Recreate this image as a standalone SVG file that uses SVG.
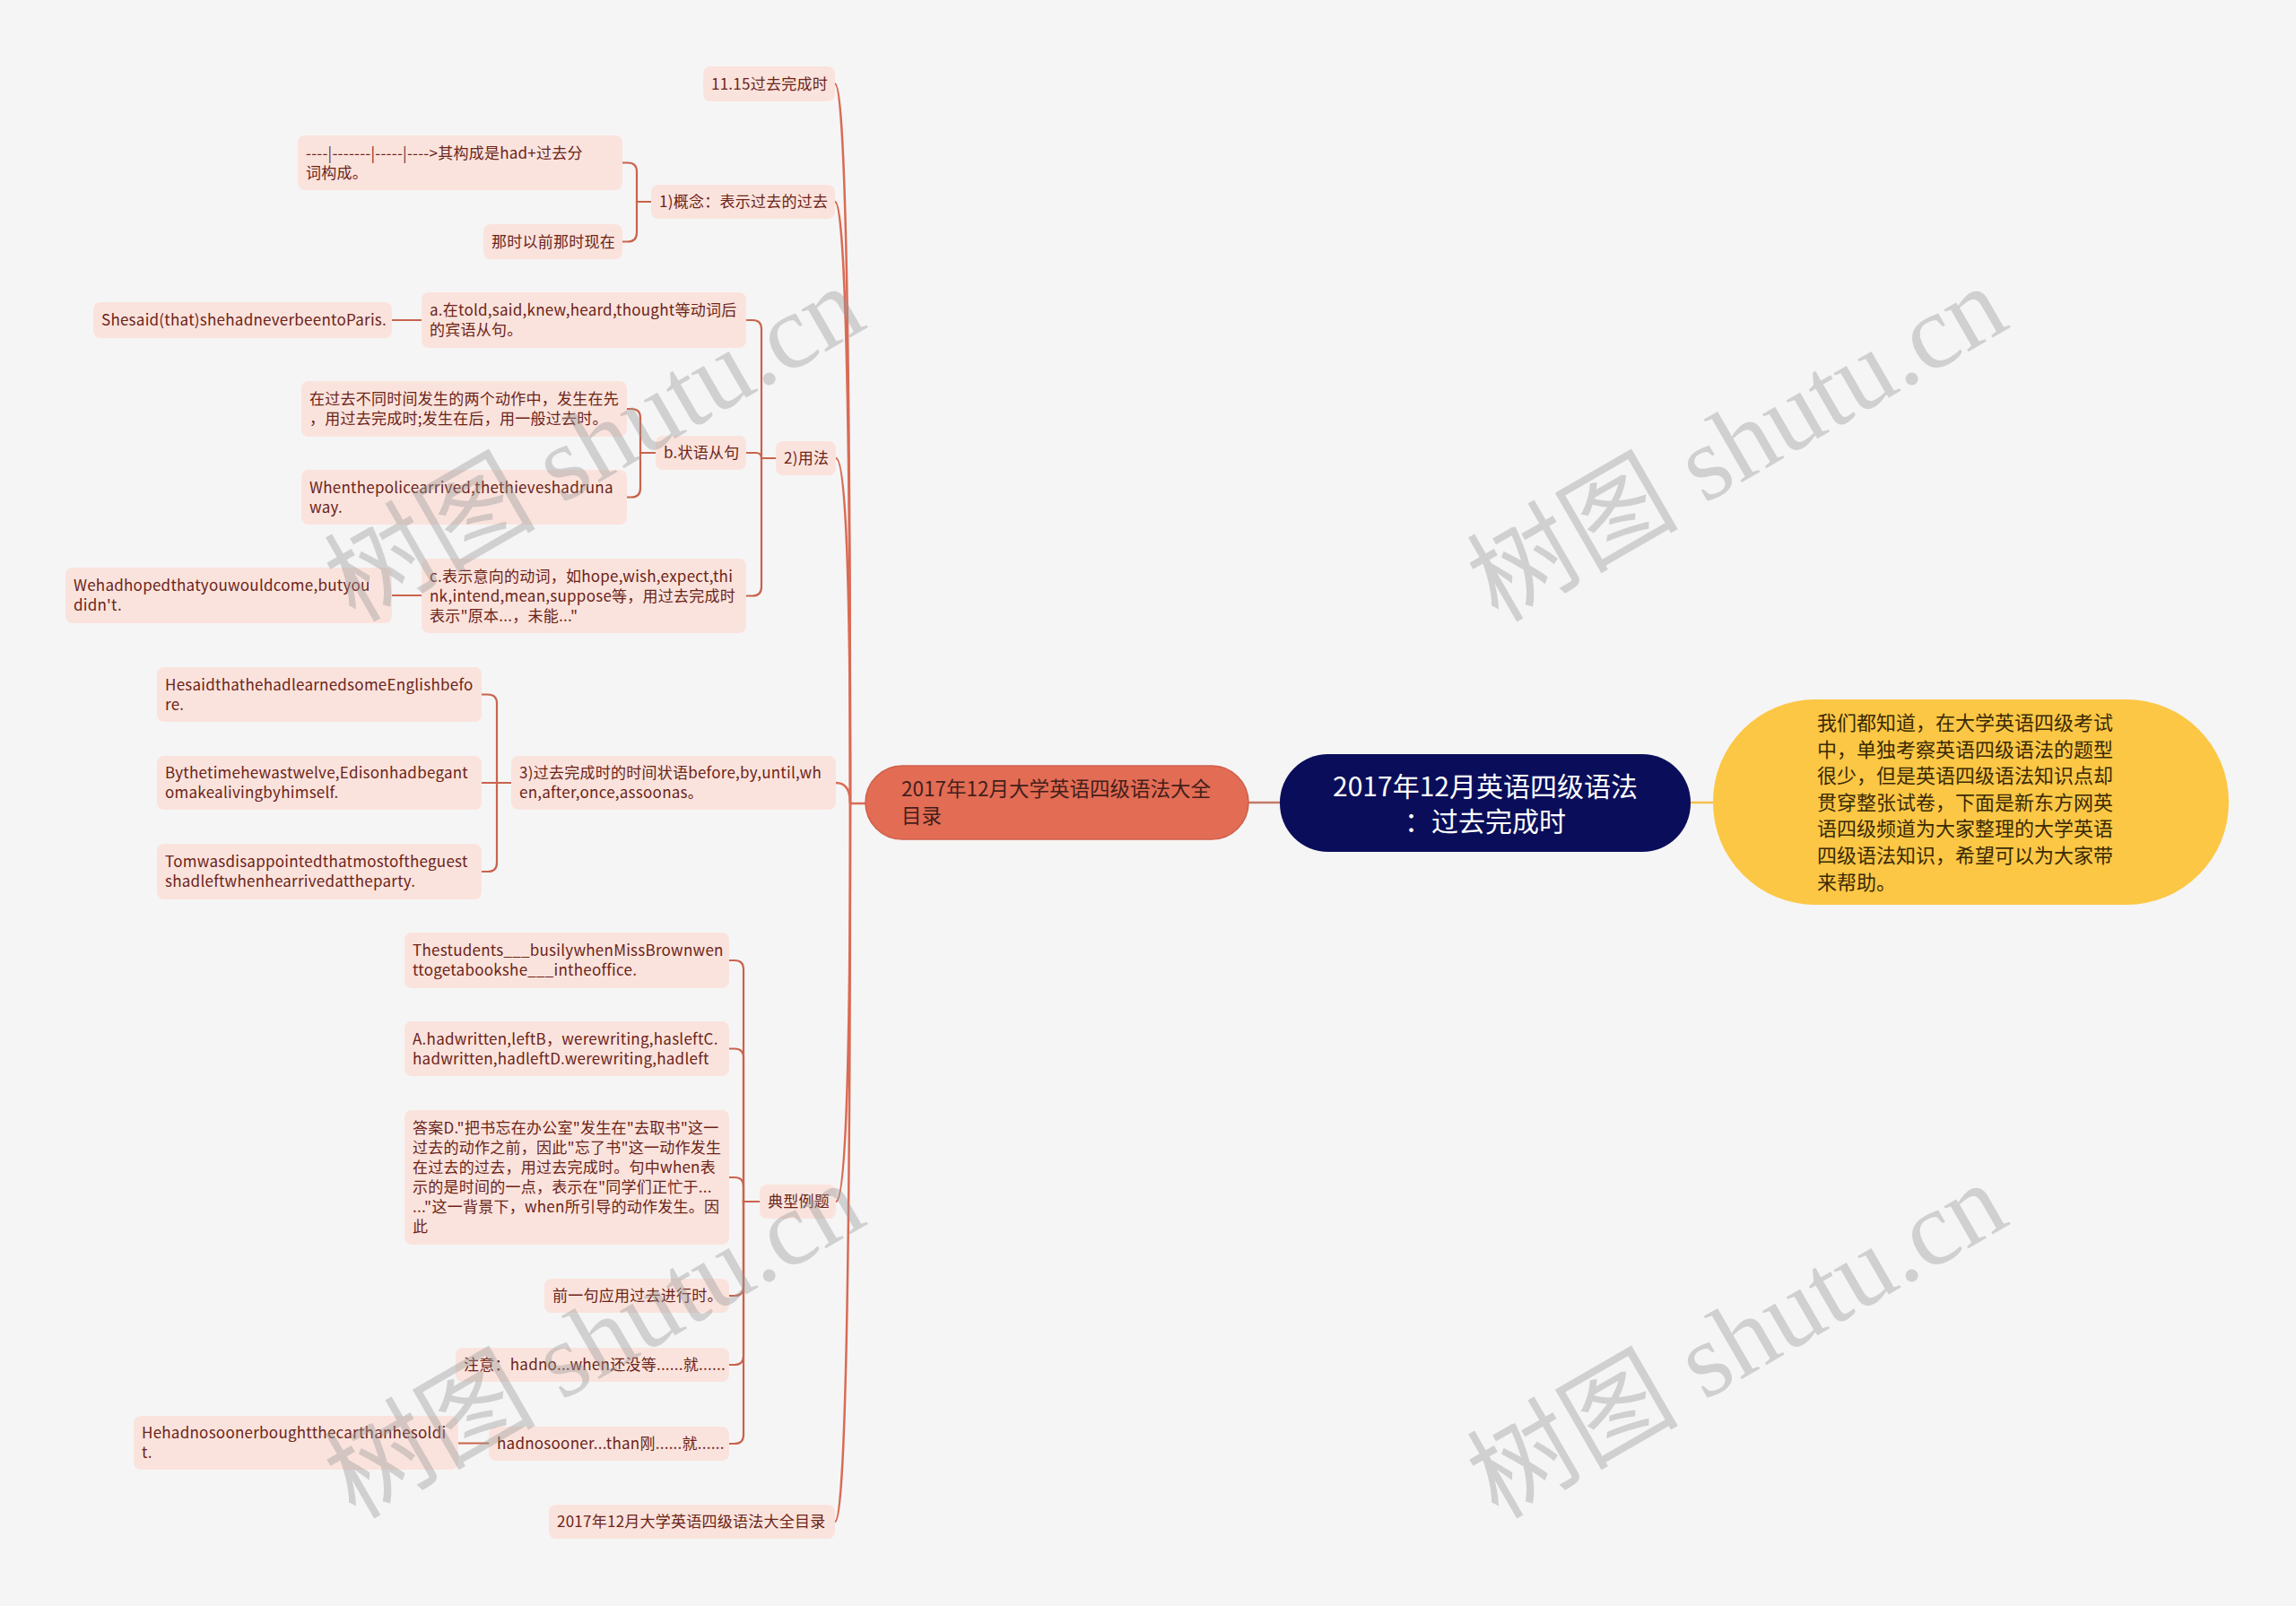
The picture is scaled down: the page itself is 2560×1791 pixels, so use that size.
<svg xmlns="http://www.w3.org/2000/svg" width="2560" height="1791" viewBox="0 0 2560 1791">
<style>
.bg{fill:#f5f5f5}
.leaf rect{fill:#fbe3dd}
.leaf text{font-family:"Noto Sans CJK SC","Noto Sans",sans-serif;font-size:17px;letter-spacing:0.25px;fill:#6b2418}
.spine path{fill:none;stroke:#d96b55;stroke-width:2.5}
.br path{fill:none;stroke:#c9634d;stroke-width:2.2}
.wm text{font-family:"Liberation Serif","Noto Sans CJK SC",serif;font-size:118px;fill:#999;fill-opacity:0.4}
</style>
<rect class="bg" x="0" y="0" width="2560" height="1791"/>
<g id="connectors">
 <g class="spine">
  <path d="M931 93.5Q948 93.5 948 896"/>
  <path d="M931 225Q948 225 948 896"/>
  <path d="M932 511Q948 511 948 896"/>
  <path d="M932 873Q948 873 948 896"/>
  <path d="M932 1340Q948 1340 948 896"/>
  <path d="M931 1697Q948 1697 948 896"/>
  <path d="M948 896H965"/>
 </g>
 <g class="br">
  <path d="M726 225H710V191.5Q710 181.5 700 181.5H694"/>
  <path d="M726 225H710V259.5Q710 269.5 700 269.5H694"/>
  <path d="M865 511H849V367Q849 357 839 357H832"/>
  <path d="M865 511H849V511Q849 505 843 505H832"/>
  <path d="M865 511H849V654.5Q849 664.5 839 664.5H832"/>
  <path d="M470 357H437"/>
  <path d="M731 505H714V466Q714 456 704 456H699"/>
  <path d="M731 505H714V544.5Q714 554.5 704 554.5H699"/>
  <path d="M470 664H437"/>
  <path d="M570 873H554V784.5Q554 774.5 544 774.5H537"/>
  <path d="M570 873H537"/>
  <path d="M570 873H554V962Q554 972 544 972H537"/>
  <path d="M847 1340H829V1081Q829 1071 819 1071H813"/>
  <path d="M847 1340H829V1179.5Q829 1169.5 819 1169.5H813"/>
  <path d="M847 1340H829V1323Q829 1313 819 1313H813"/>
  <path d="M847 1340H829V1435Q829 1445 819 1445H813"/>
  <path d="M847 1340H829V1512Q829 1522 819 1522H813"/>
  <path d="M847 1340H829V1600Q829 1610 819 1610H813"/>
  <path d="M545 1609.5H511"/>
 </g>
 <path d="M1392 895H1427" fill="none" stroke="#c47a68" stroke-width="2.5"/>
 <path d="M1885 895H1910" fill="none" stroke="#f4c04c" stroke-width="2.5"/>
</g>

<g id="center">
 <rect x="1427" y="841" width="458" height="109" rx="54" fill="#0a0e5a"/>
 <text font-family="'Noto Sans CJK SC','Noto Sans',sans-serif" font-size="30" fill="#ffffff" text-anchor="middle"><tspan x="1656" y="888">2017年12月英语四级语法</tspan><tspan x="1656" y="927">：过去完成时</tspan></text>
</g>

<g id="summary">
 <rect x="1910" y="780" width="575" height="229" rx="114" fill="#fcc745"/>
 <text font-family="'Noto Sans CJK SC','Noto Sans',sans-serif" font-size="22" fill="#3a2a05"><tspan x="2026" y="814">我们都知道，在大学英语四级考试</tspan><tspan x="2026" y="843.6">中，单独考察英语四级语法的题型</tspan><tspan x="2026" y="873.2">很少，但是英语四级语法知识点却</tspan><tspan x="2026" y="902.8">贯穿整张试卷，下面是新东方网英</tspan><tspan x="2026" y="932.4">语四级频道为大家整理的大学英语</tspan><tspan x="2026" y="962">四级语法知识，希望可以为大家带</tspan><tspan x="2026" y="991.6">来帮助。</tspan></text>
</g>

<g id="root">
 <rect x="965" y="854" width="427" height="82" rx="41" fill="#e36c55" stroke="#cf5f49" stroke-width="1.5"/>
 <text font-family="'Noto Sans CJK SC','Noto Sans',sans-serif" font-size="22.5" fill="#43201a"><tspan x="1005" y="888">2017年12月大学英语四级语法大全</tspan><tspan x="1005" y="918">目录</tspan></text>
</g>

<g id="n-1115" class="leaf"><rect x="784" y="74" width="147" height="39" rx="8"/><text x="793" y="99.5">11.15过去完成时</text></g>
<g id="n-concept" class="leaf"><rect x="726" y="206" width="205" height="38" rx="8"/><text x="735" y="231">1)概念：表示过去的过去</text></g>
<g id="n-structure" class="leaf"><rect x="332" y="151" width="362" height="61" rx="8"/><text><tspan x="341" y="176.5">----|-------|-----|----&gt;其构成是had+过去分</tspan><tspan x="341" y="198.5">词构成。</tspan></text></g>
<g id="n-thattime" class="leaf"><rect x="539" y="250" width="155" height="39" rx="8"/><text x="548" y="275.5">那时以前那时现在</text></g>

<g id="n-usage" class="leaf"><rect x="865" y="492" width="67" height="38" rx="8"/><text x="874" y="517">2)用法</text></g>
<g id="n-a" class="leaf"><rect x="470" y="326" width="362" height="62" rx="8"/><text><tspan x="479" y="352">a.在told,said,knew,heard,thought等动词后</tspan><tspan x="479" y="374">的宾语从句。</tspan></text></g>
<g id="n-she" class="leaf"><rect x="104" y="337" width="333" height="40" rx="8"/><text x="113" y="363">Shesaid(that)shehadneverbeentoParis.</text></g>
<g id="n-b" class="leaf"><rect x="731" y="486" width="101" height="38" rx="8"/><text x="740" y="511">b.状语从句</text></g>
<g id="n-b1" class="leaf"><rect x="336" y="425" width="363" height="62" rx="8"/><text><tspan x="345" y="451">在过去不同时间发生的两个动作中，发生在先</tspan><tspan x="345" y="473">，用过去完成时;发生在后，用一般过去时。</tspan></text></g>
<g id="n-b2" class="leaf"><rect x="336" y="524" width="363" height="61" rx="8"/><text><tspan x="345" y="549.5">Whenthepolicearrived,thethieveshadruna</tspan><tspan x="345" y="571.5">way.</tspan></text></g>
<g id="n-c" class="leaf"><rect x="470" y="623" width="362" height="83" rx="8"/><text><tspan x="479" y="648.5">c.表示意向的动词，如hope,wish,expect,thi</tspan><tspan x="479" y="670.5">nk,intend,mean,suppose等，用过去完成时</tspan><tspan x="479" y="692.5">表示"原本...，未能..."</tspan></text></g>
<g id="n-we" class="leaf"><rect x="73" y="633" width="364" height="62" rx="8"/><text><tspan x="82" y="659">Wehadhopedthatyouwouldcome,butyou</tspan><tspan x="82" y="681">didn't.</tspan></text></g>

<g id="n-3" class="leaf"><rect x="570" y="843" width="362" height="60" rx="8"/><text><tspan x="579" y="868">3)过去完成时的时间状语before,by,until,wh</tspan><tspan x="579" y="890">en,after,once,assoonas。</tspan></text></g>
<g id="n-3a" class="leaf"><rect x="175" y="744" width="362" height="61" rx="8"/><text><tspan x="184" y="769.5">HesaidthathehadlearnedsomeEnglishbefo</tspan><tspan x="184" y="791.5">re.</tspan></text></g>
<g id="n-3b" class="leaf"><rect x="175" y="843" width="362" height="60" rx="8"/><text><tspan x="184" y="868">Bythetimehewastwelve,Edisonhadbegant</tspan><tspan x="184" y="890">omakealivingbyhimself.</tspan></text></g>
<g id="n-3c" class="leaf"><rect x="175" y="941" width="362" height="62" rx="8"/><text><tspan x="184" y="967">Tomwasdisappointedthatmostoftheguest</tspan><tspan x="184" y="989">shadleftwhenhearrivedattheparty.</tspan></text></g>

<g id="n-ex" class="leaf"><rect x="847" y="1321" width="85" height="38" rx="8"/><text x="856" y="1346">典型例题</text></g>
<g id="n-ex1" class="leaf"><rect x="451" y="1040" width="362" height="62" rx="8"/><text><tspan x="460" y="1066">Thestudents___busilywhenMissBrownwen</tspan><tspan x="460" y="1088">ttogetabookshe___intheoffice.</tspan></text></g>
<g id="n-ex2" class="leaf"><rect x="451" y="1139" width="362" height="61" rx="8"/><text><tspan x="460" y="1164.5">A.hadwritten,leftB，werewriting,hasleftC.</tspan><tspan x="460" y="1186.5">hadwritten,hadleftD.werewriting,hadleft</tspan></text></g>
<g id="n-ex3" class="leaf"><rect x="451" y="1238" width="362" height="150" rx="8"/><text><tspan x="460" y="1264">答案D."把书忘在办公室"发生在"去取书"这一</tspan><tspan x="460" y="1286">过去的动作之前，因此"忘了书"这一动作发生</tspan><tspan x="460" y="1308">在过去的过去，用过去完成时。句中when表</tspan><tspan x="460" y="1330">示的是时间的一点，表示在"同学们正忙于...</tspan><tspan x="460" y="1352">..."这一背景下，when所引导的动作发生。因</tspan><tspan x="460" y="1374">此</tspan></text></g>
<g id="n-ex4" class="leaf"><rect x="607" y="1426" width="206" height="38" rx="8"/><text x="616" y="1451">前一句应用过去进行时。</text></g>
<g id="n-ex5" class="leaf"><rect x="508" y="1503" width="305" height="38" rx="8"/><text x="517" y="1528">注意：hadno...when还没等......就......</text></g>
<g id="n-ex6" class="leaf"><rect x="545" y="1591" width="268" height="38" rx="8"/><text x="554" y="1616">hadnosooner...than刚......就......</text></g>
<g id="n-ex6a" class="leaf"><rect x="149" y="1579" width="362" height="60" rx="8"/><text><tspan x="158" y="1604">Hehadnosoonerboughtthecarthanhesoldi</tspan><tspan x="158" y="1626">t.</tspan></text></g>

<g id="n-toc" class="leaf"><rect x="612" y="1678" width="319" height="38" rx="8"/><text x="621" y="1703">2017年12月大学英语四级语法大全目录</text></g>

<g class="wm" id="watermark">
 <text transform="translate(396 695) rotate(-30)">树图 shutu.cn</text>
 <text transform="translate(1670 695) rotate(-30)">树图 shutu.cn</text>
 <text transform="translate(396 1695) rotate(-30)">树图 shutu.cn</text>
 <text transform="translate(1670 1695) rotate(-30)">树图 shutu.cn</text>
</g>
</svg>
